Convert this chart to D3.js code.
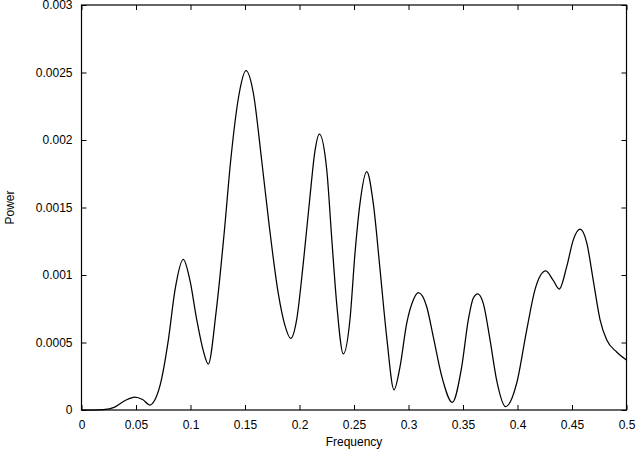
<!DOCTYPE html>
<html>
<head>
<meta charset="utf-8">
<script src="https://cdn.jsdelivr.net/npm/d3@7/dist/d3.min.js"></script>
<style>
  html, body { margin: 0; padding: 0; background: #fff; }
  svg { display: block; }
  text { font-family: "Liberation Sans", Arial, Helvetica, sans-serif; fill: #000; }
</style>
</head>
<body>
<svg id="chart" width="638" height="450"></svg>
<script>
// Data
const frequency = [0, 0.01, 0.02, 0.03, 0.04, 0.049, 0.056, 0.0628, 0.067, 0.072, 0.0797, 0.0858, 0.0934,
  0.0995, 0.1057, 0.1117, 0.1163, 0.1234, 0.131, 0.1369, 0.1448, 0.1509, 0.1576, 0.1653, 0.1723, 0.1806,
  0.1865, 0.1919, 0.1974, 0.2035, 0.2096, 0.2142, 0.2182, 0.225, 0.2295, 0.2341, 0.2402, 0.2463, 0.2509,
  0.2555, 0.2617, 0.2677, 0.2739, 0.28, 0.2867, 0.2922, 0.2983, 0.3044, 0.309, 0.3167, 0.3228, 0.3305,
  0.3402, 0.3488, 0.3549, 0.3595, 0.3635, 0.3686, 0.3748, 0.3809, 0.3892, 0.3993, 0.4084, 0.416, 0.4259,
  0.4328, 0.4383, 0.4451, 0.4512, 0.4573, 0.4635, 0.4695, 0.4757, 0.4818, 0.491, 0.5];
const power = [0, 0, 0.000003, 0.00002, 0.00007, 0.000096, 0.000078, 0.000037, 0.00007, 0.00018, 0.00052, 0.00089, 0.001116,
  0.00096, 0.00067, 0.00044, 0.00034, 0.00072, 0.00132, 0.00185, 0.00235, 0.002513, 0.00235, 0.00185, 0.00136, 0.00086,
  0.00063, 0.00053, 0.00067, 0.00109, 0.00158, 0.00192, 0.002044, 0.00178, 0.00128, 0.00079, 0.000415, 0.00067, 0.00116,
  0.00153, 0.001765, 0.00153, 0.00104, 0.00054, 0.00015, 0.00032, 0.00064, 0.000815, 0.000869, 0.000765, 0.00054, 0.00025,
  0.000057, 0.00032, 0.00067, 0.00083, 0.000861, 0.00079, 0.00052, 0.00022, 0.000025, 0.0002, 0.00059, 0.00089, 0.00103,
  0.00096, 0.000896, 0.00106, 0.00126, 0.001339, 0.00124, 0.00096, 0.00067, 0.00052, 0.00043, 0.00037];

const xTicks = [0, 0.05, 0.1, 0.15, 0.2, 0.25, 0.3, 0.35, 0.4, 0.45, 0.5];
const xTickLabels = ["0", "0.05", "0.1", "0.15", "0.2", "0.25", "0.3", "0.35", "0.4", "0.45", "0.5"];
const yTicks = [0, 0.0005, 0.001, 0.0015, 0.002, 0.0025, 0.003];
const yTickLabels = ["0", "0.0005", "0.001", "0.0015", "0.002", "0.0025", "0.003"];
const xTitle = "Frequency";
const yTitle = "Power";

const svg = d3.select("#chart");
const plotLeft = 81.5, plotRight = 626.5, plotTop = 5, plotBottom = 410;

const x = d3.scaleLinear().domain([0, 0.5]).range([plotLeft, plotRight]);
const y = d3.scaleLinear().domain([0, 0.003]).range([plotBottom, plotTop]);

const tickLen = 5;
const fontSize = 12;

// Bottom axis
const gx = svg.append("g").attr("transform", `translate(0,${plotBottom})`)
  .call(d3.axisBottom(x).tickValues(xTicks).tickFormat((d, i) => xTickLabels[i])
    .tickSize(-tickLen).tickPadding(10));
// Left axis
const gy = svg.append("g").attr("transform", `translate(${plotLeft},0)`)
  .call(d3.axisLeft(y).tickValues(yTicks).tickFormat((d, i) => yTickLabels[i])
    .tickSize(-tickLen).tickPadding(9));
// Top axis (ticks only)
const gt = svg.append("g").attr("transform", `translate(0,${plotTop})`)
  .call(d3.axisTop(x).tickValues(xTicks).tickFormat("").tickSize(-tickLen));
// Right axis (ticks only)
const gr = svg.append("g").attr("transform", `translate(${plotRight},0)`)
  .call(d3.axisRight(y).tickValues(yTicks).tickFormat("").tickSize(-tickLen));

[gx, gy, gt, gr].forEach(g => {
  g.select(".domain").remove();
  g.selectAll(".tick line").attr("stroke", "#000").attr("stroke-width", 1);
  g.selectAll(".tick text").attr("font-size", fontSize)
    .attr("font-family", '"Liberation Sans", Arial, Helvetica, sans-serif').attr("fill", "#000");
});

// Frame
svg.append("rect")
  .attr("x", plotLeft).attr("y", plotTop)
  .attr("width", plotRight - plotLeft).attr("height", plotBottom - plotTop)
  .attr("fill", "none").attr("stroke", "#000").attr("stroke-width", 1.2);

// Curve
const pts = frequency.map((f, i) => [f, power[i]]);
const line = d3.line().x(d => x(d[0])).y(d => y(d[1])).curve(d3.curveMonotoneX);
svg.append("path")
  .datum(pts)
  .attr("d", line)
  .attr("fill", "none")
  .attr("stroke", "#000")
  .attr("stroke-width", 1.25)
  .attr("stroke-linejoin", "round");

// Titles
svg.append("text")
  .attr("x", (plotLeft + plotRight) / 2).attr("y", 446)
  .attr("text-anchor", "middle").attr("font-size", fontSize)
  .text(xTitle);
svg.append("text")
  .attr("transform", `translate(14,${(plotTop + plotBottom) / 2}) rotate(-90)`)
  .attr("text-anchor", "middle").attr("font-size", fontSize)
  .text(yTitle);
</script>
</body>
</html>
